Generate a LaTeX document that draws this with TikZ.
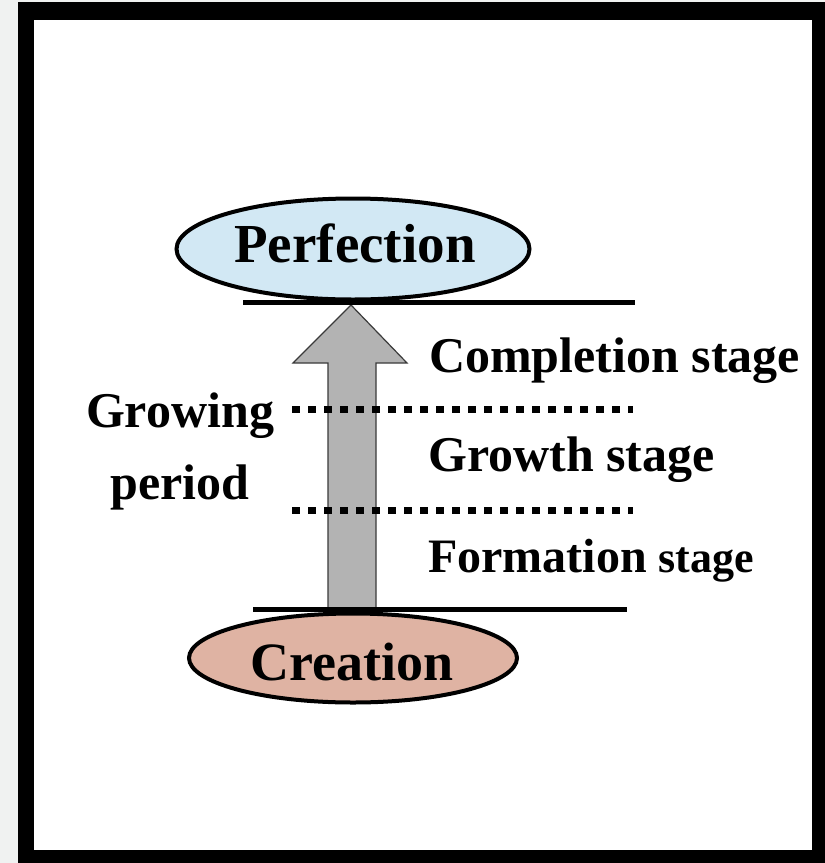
\documentclass[tikz,border=0pt]{standalone}
\usepackage{fontspec}
\setmainfont{Liberation Serif}
\usetikzlibrary{shapes.geometric}
\definecolor{stripgray}{HTML}{F0F2F1}
\definecolor{perfblue}{HTML}{D2E8F4}
\definecolor{creapink}{HTML}{DFB3A3}
\definecolor{arrowgray}{HTML}{B3B3B3}
\definecolor{arrowedge}{HTML}{3A3A3A}
\tikzset{
  oval/.style={ellipse, draw=black, line width=4pt, inner sep=0pt},
  bigtext/.style={font=\fontsize{55}{60}\selectfont\bfseries, inner sep=0pt, anchor=base},
  midtext/.style={font=\fontsize{50}{55}\selectfont\bfseries, inner sep=0pt, anchor=base},
  levelline/.style={line width=5pt, black},
  stageline/.style={line width=7pt, black, dash pattern=on 8pt off 8pt},
}
\begin{document}
\begin{tikzpicture}[x=1pt,y=-1pt]
% background and frame
\fill[stripgray] (0,0) rectangle (825,863);
\useasboundingbox (0,0) rectangle (825,863);
\fill[black] (18,2) rectangle (825,863);
\fill[white] (34,20) rectangle (812,850);

% arrow
\coordinate (abotL) at (328,609);
\coordinate (abotR) at (376,609);
\coordinate (atip) at (351,305);
\draw[fill=arrowgray, draw=arrowedge, line width=1.2pt, line join=miter]
  (abotL) -- (328,363) -- (293,363) -- (atip) -- (407,363) -- (376,363) -- (abotR);

% level lines
\coordinate (topL) at (243,302);
\coordinate (topR) at (635,302);
\coordinate (botL) at (253,609);
\coordinate (botR) at (627,609);
\draw[levelline] (topL) -- (topR);
\draw[levelline] (botL) -- (botR);

% dotted stage separators
\coordinate (d1L) at (292,409);
\coordinate (d1R) at (633,409);
\coordinate (d2L) at (292,510);
\coordinate (d2R) at (633,510);
\draw[stageline] (d1L) -- (d1R);
\draw[stageline] (d2L) -- (d2R);

% ellipses
\node[oval, fill=perfblue, minimum width=353pt, minimum height=101pt] (perf) at (353,249) {};
\node[bigtext] (perftext) at (355,262) {Perfection};
\node[oval, fill=creapink, minimum width=328pt, minimum height=89pt] (crea) at (353,658) {};
\node[bigtext, font=\fontsize{54}{60}\selectfont\bfseries] (creatext) at (352,680) {Creation};

% stage labels
\node[midtext, anchor=base west] (compl) at (429,372) {Completion stage};
\node[midtext, anchor=base west] (growth) at (428,471) {Growth stage};
\node[midtext, anchor=base west] (form) at (428,572) {\fontsize{48}{55}\selectfont Formation \fontsize{44}{55}\selectfont stage};

% growing period
\node[midtext] (growing) at (180,427) {Growing};
\node[midtext] (period) at (180,499) {period};
\end{tikzpicture}
\end{document}
